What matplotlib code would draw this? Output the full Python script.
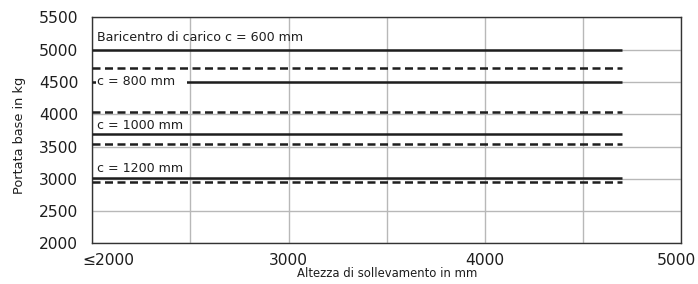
import matplotlib
matplotlib.use("Agg")
import matplotlib.pyplot as plt
from matplotlib.transforms import ScaledTranslation
from matplotlib.patches import Rectangle

plt.rcParams['font.family'] = ['DejaVu Sans']

x_start = 2000
x_end = 4700
solid_vals = [5000, 4500, 3690, 3015]
dashed_vals = [4710, 4030, 3535, 2948]
labels = ["Baricentro di carico c = 600 mm", "c = 800 mm", "c = 1000 mm", "c = 1200 mm"]
label_y = [5180, 4500, 3830, 3160]
xticks = [2000, 3000, 4000, 5000]
xticklabels = ["≤2000", "3000", "4000", "5000"]
yticks = [2000, 2500, 3000, 3500, 4000, 4500, 5000, 5500]

fig = plt.figure(figsize=(6.98, 2.84), dpi=100)
ax = fig.add_axes([0.132, 0.143, 0.844, 0.796])

for s in solid_vals:
    ax.plot([x_start, x_end], [s, s], color='#1e1e1e', lw=1.8, solid_capstyle='butt', zorder=3)
for d in dashed_vals:
    ax.plot([x_start, x_end], [d, d], color='#1e1e1e', lw=1.8, dashes=(3.2, 1.8), dash_capstyle='butt', zorder=3)

ax.set_xlim(2000, 5000)
ax.set_ylim(2000, 5500)

boxed = []
for i, (t, yv) in enumerate(zip(labels, label_y)):
    txt = ax.text(2025, yv, t, fontsize=9.1, va='center', ha='left', color='#1e1e1e', zorder=5)
    if i == 1:
        boxed.append(txt)

ax.set_xticks(xticks)
ax.set_xticklabels(xticklabels)
ax.set_xticks([2500, 3500, 4500], minor=True)
ax.set_yticks(yticks)
ax.grid(True, which='both', color='#b8b8b8', lw=1.0, zorder=0)
ax.tick_params(which='both', length=0, labelsize=11.2, colors='#1e1e1e')
ax.tick_params(axis='x', pad=7)
ax.tick_params(axis='y', pad=10)
for sp in ax.spines.values():
    sp.set_color('#333333')
    sp.set_linewidth(1.0)

xl = ax.get_xticklabels()
xl[0].set_transform(xl[0].get_transform() + ScaledTranslation(16 / 100, 0, fig.dpi_scale_trans))
xl[-1].set_transform(xl[-1].get_transform() + ScaledTranslation(-5 / 100, 0, fig.dpi_scale_trans))

ax.set_xlabel("Altezza di sollevamento in mm", fontsize=8.4, color='#1e1e1e', labelpad=-1)
ax.set_ylabel("Portata base in kg", fontsize=9.3, color='#1e1e1e')
ax.yaxis.set_label_coords(-0.112, 0.48)

# white backing box behind the "c = 800 mm" label, derived from the text extent
fig.canvas.draw()
renderer = fig.canvas.get_renderer()
inv = ax.transData.inverted()
for txt in boxed:
    bb = txt.get_window_extent(renderer)
    (x0, y0) = inv.transform((bb.x0 - 1, bb.y0 - 2))
    (x1, y1) = inv.transform((bb.x1 + 12, bb.y1 + 2))
    ax.add_patch(Rectangle((x0, y0), x1 - x0, y1 - y0, facecolor='white', edgecolor='none', zorder=4))

fig.savefig("out.png", dpi=100)
